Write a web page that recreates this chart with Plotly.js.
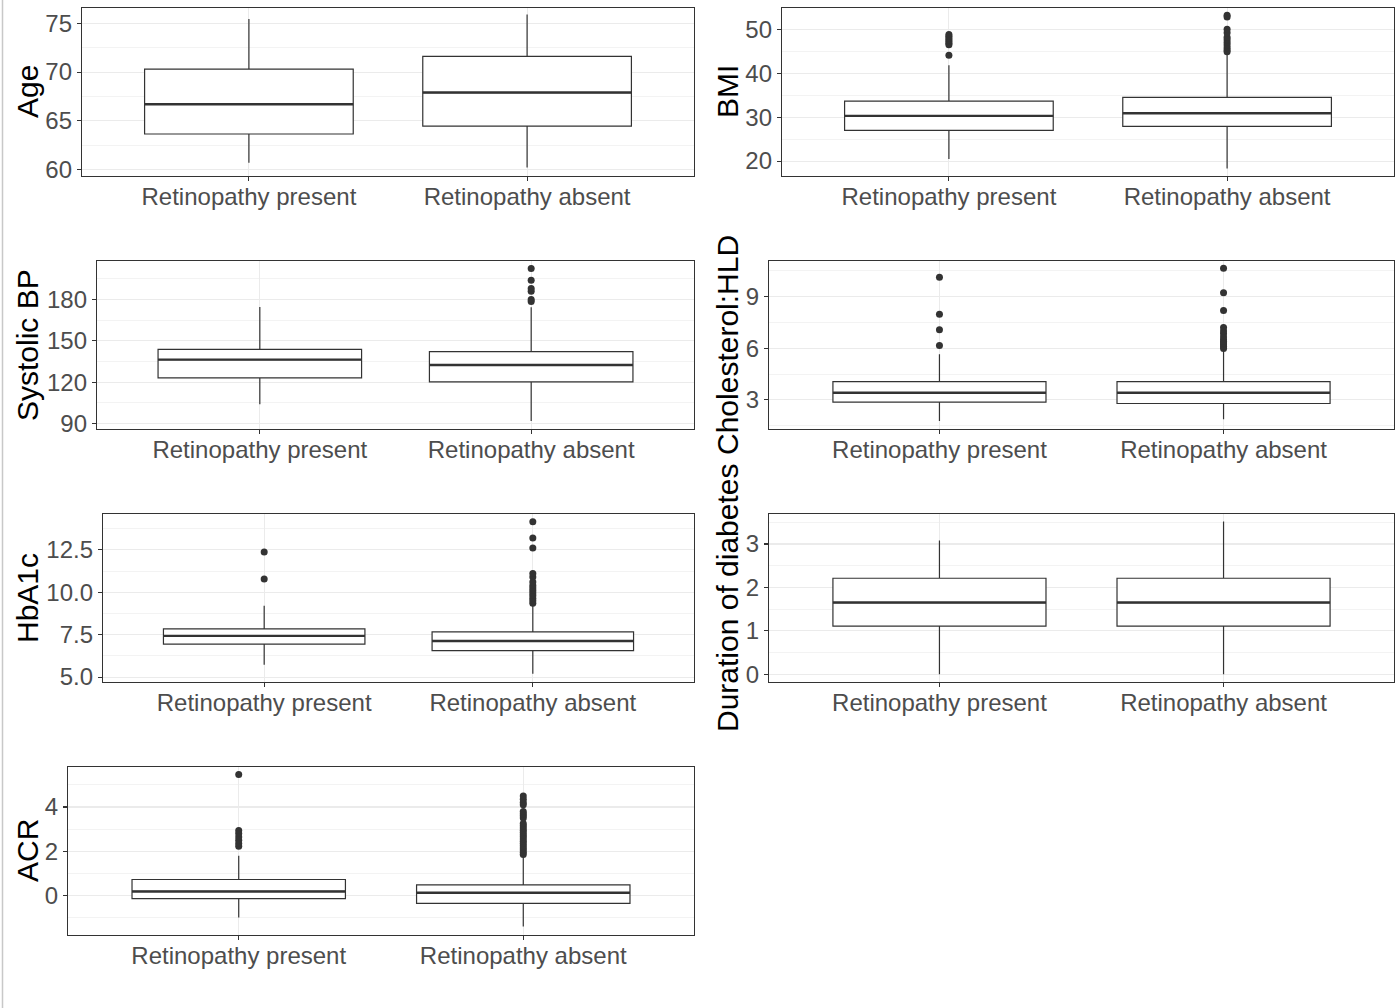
<!DOCTYPE html>
<html>
<head>
<meta charset="utf-8">
<script src="https://cdn.plot.ly/plotly-3.0.1.min.js"></script>
<style>
  html, body { margin: 0; padding: 0; background: #ffffff; }
  #chart { width: 1398px; height: 1008px; }
</style>
</head>
<body>
<div id="chart"></div>
<script>
// ---------------- DATA ----------------
const categories = ['Retinopathy present', 'Retinopathy absent'];

// Age
const ageLow = [60.7, 60.2];
const ageQ1 = [63.65, 64.45];
const ageMedian = [66.7, 67.9];
const ageQ3 = [70.3, 71.6];
const ageHigh = [75.45, 75.9];
const ageOutPresent = [];
const ageOutAbsent = [];

// BMI
const bmiLow = [20.45, 18.3];
const bmiQ1 = [27.0, 27.9];
const bmiMedian = [30.3, 30.9];
const bmiQ3 = [33.65, 34.5];
const bmiHigh = [41.8, 44.5];
const bmiOutPresent = [44.1, 46.5, 46.8, 47.2, 47.6, 48.0, 48.4, 48.8];
const bmiOutAbsent = [44.9, 45.3, 45.8, 46.4, 47.0, 47.6, 48.2, 49.2, 50.0, 52.8, 53.2];

// Systolic BP
const sbpLow = [104.0, 91.9];
const sbpQ1 = [123.1, 120.2];
const sbpMedian = [136.4, 132.5];
const sbpQ3 = [143.9, 142.2];
const sbpHigh = [174.6, 174.3];
const sbpOutPresent = [];
const sbpOutAbsent = [178.5, 180.0, 186.0, 188.0, 194.0, 202.5];

// Cholesterol:HLD
const cholLow = [1.78, 1.88];
const cholQ1 = [2.87, 2.79];
const cholMedian = [3.42, 3.42];
const cholQ3 = [4.06, 4.06];
const cholHigh = [5.65, 5.85];
const cholOutPresent = [6.16, 7.08, 7.98, 10.13];
const cholOutAbsent = [5.98, 6.1, 6.2, 6.3, 6.4, 6.5, 6.65, 6.85, 7.0, 7.2, 8.2, 9.23, 10.65];

// HbA1c
const hbaLow = [5.73, 5.2];
const hbaQ1 = [6.94, 6.56];
const hbaMedian = [7.43, 7.13];
const hbaQ3 = [7.84, 7.66];
const hbaHigh = [9.2, 9.25];
const hbaOutPresent = [10.78, 12.37];
const hbaOutAbsent = [9.35, 9.5, 9.65, 9.8, 9.95, 10.1, 10.25, 10.4, 10.6, 10.9, 11.1, 12.6, 13.2, 14.15];

// Duration of diabetes
const durLow = [0.0, 0.0];
const durQ1 = [1.105, 1.105];
const durMedian = [1.65, 1.65];
const durQ3 = [2.21, 2.21];
const durHigh = [3.08, 3.52];
const durOutPresent = [];
const durOutAbsent = [];

// ACR
const acrLow = [-1.0, -1.4];
const acrQ1 = [-0.14, -0.36];
const acrMedian = [0.18, 0.12];
const acrQ3 = [0.72, 0.48];
const acrHigh = [1.8, 1.8];
const acrOutPresent = [2.22, 2.35, 2.5, 2.64, 2.8, 2.94, 5.47];
const acrOutAbsent = [1.85, 1.95, 2.05, 2.15, 2.25, 2.35, 2.45, 2.55, 2.65, 2.75, 2.85, 2.95, 3.05, 3.15, 3.25, 3.5, 3.6, 3.7, 3.8, 4.1, 4.2, 4.35, 4.5];

// -------------- PANELS (layout only) --------------
const W = 1398, H = 1008;
const panels = [
  { title: 'Age', low: ageLow, q1: ageQ1, med: ageMedian, q3: ageQ3, high: ageHigh, outP: ageOutPresent, outA: ageOutAbsent,
    frame: [82, 694, 8, 176], range: [59.34, 76.57], dtick: 5, fmt: '', titleX: 27 },
  { title: 'BMI', low: bmiLow, q1: bmiQ1, med: bmiMedian, q3: bmiQ3, high: bmiHigh, outP: bmiOutPresent, outA: bmiOutAbsent,
    frame: [782, 1394, 8, 176], range: [16.6, 54.85], dtick: 10, fmt: '', titleX: 727 },
  { title: 'Systolic BP', low: sbpLow, q1: sbpQ1, med: sbpMedian, q3: sbpQ3, high: sbpHigh, outP: sbpOutPresent, outA: sbpOutAbsent,
    frame: [97, 694, 261, 429], range: [86.1, 207.9], dtick: 30, fmt: '', titleX: 27 },
  { title: 'Cholesterol:HLD', low: cholLow, q1: cholQ1, med: cholMedian, q3: cholQ3, high: cholHigh, outP: cholOutPresent, outA: cholOutAbsent,
    frame: [769, 1394, 261, 429], range: [1.31, 11.07], dtick: 3, fmt: '', titleX: 727 },
  { title: 'HbA1c', low: hbaLow, q1: hbaQ1, med: hbaMedian, q3: hbaQ3, high: hbaHigh, outP: hbaOutPresent, outA: hbaOutAbsent,
    frame: [103, 694, 514, 682], range: [4.71, 14.61], dtick: 2.5, fmt: '.1f', titleX: 27 },
  { title: 'Duration of diabetes', low: durLow, q1: durQ1, med: durMedian, q3: durQ3, high: durHigh, outP: durOutPresent, outA: durOutAbsent,
    frame: [769, 1394, 514, 682], range: [-0.18, 3.69], dtick: 1, fmt: '', titleX: 727 },
  { title: 'ACR', low: acrLow, q1: acrQ1, med: acrMedian, q3: acrQ3, high: acrHigh, outP: acrOutPresent, outA: acrOutAbsent,
    frame: [68, 694, 767, 935], range: [-1.79, 5.81], dtick: 2, fmt: '', titleX: 27 }
];

const FONT = 'Arial, "Liberation Sans", Helvetica, sans-serif';
const LINE = '#333333';
const catPos = categories.map((c, i) => i + 1);
const BOXW = 0.75;

const traces = [];
const layout = {
  width: W, height: H,
  margin: { l: 0, r: 0, t: 0, b: 0 },
  paper_bgcolor: '#ffffff',
  plot_bgcolor: '#ffffff',
  showlegend: false,
  font: { family: FONT },
  annotations: [],
  shapes: [{
    type: 'line', xref: 'paper', yref: 'paper',
    x0: 2.5 / W, x1: 2.5 / W, y0: 0, y1: 1,
    line: { color: '#C8C8C8', width: 1.5 }
  }]
};

panels.forEach((p, k) => {
  const n = k === 0 ? '' : String(k + 1);
  const xa = 'x' + n, ya = 'y' + n;

  traces.push({
    type: 'box', xaxis: xa, yaxis: ya,
    x: catPos,
    q1: p.q1, median: p.med, q3: p.q3,
    lowerfence: p.low, upperfence: p.high,
    width: BOXW, whiskerwidth: 0,
    boxpoints: false,
    fillcolor: '#ffffff',
    line: { color: LINE, width: 1.2 },
    hoverinfo: 'skip'
  });

  // thicker median bar (ggplot fatten)
  const mx = [], my = [];
  catPos.forEach((c, i) => {
    mx.push(c - BOXW / 2, c + BOXW / 2, null);
    my.push(p.med[i], p.med[i], null);
  });
  traces.push({
    type: 'scatter', mode: 'lines', xaxis: xa, yaxis: ya,
    x: mx, y: my, line: { color: LINE, width: 2.4 }, hoverinfo: 'skip'
  });

  // outliers
  const ox = p.outP.map(() => catPos[0]).concat(p.outA.map(() => catPos[1]));
  const oy = p.outP.concat(p.outA);
  if (oy.length) {
    traces.push({
      type: 'scatter', mode: 'markers', xaxis: xa, yaxis: ya,
      x: ox, y: oy,
      marker: { color: LINE, size: 7, line: { width: 0 } },
      hoverinfo: 'skip'
    });
  }

  const [fx0, fx1, fy0, fy1] = p.frame;
  layout['xaxis' + n] = {
    domain: [fx0 / W, fx1 / W],
    anchor: ya,
    range: [0.4, 2.6],
    tickmode: 'array', tickvals: catPos, ticktext: categories,
    showline: true, mirror: true, linecolor: LINE, linewidth: 1.2,
    ticks: 'outside', ticklen: 4, tickwidth: 1.1, tickcolor: LINE,
    ticklabelstandoff: -5,
    tickfont: { family: FONT, size: 24, color: '#4D4D4D' },
    showgrid: true, gridcolor: '#EBEBEB', gridwidth: 1,
    zeroline: false, fixedrange: true
  };
  layout['yaxis' + n] = {
    domain: [1 - fy1 / H, 1 - fy0 / H],
    anchor: xa,
    range: p.range,
    tick0: 0, dtick: p.dtick, tickformat: p.fmt,
    showline: true, mirror: true, linecolor: LINE, linewidth: 1.2,
    ticks: 'outside', ticklen: 4, tickwidth: 1.1, tickcolor: LINE,
    tickfont: { family: FONT, size: 24, color: '#4D4D4D' },
    showgrid: true, gridcolor: '#EBEBEB', gridwidth: 1.1,
    minor: { tick0: 0, dtick: p.dtick / 2, showgrid: true, gridcolor: '#F3F3F3', gridwidth: 1, ticks: '' },
    zeroline: false, fixedrange: true
  };

  layout.annotations.push({
    text: p.title, xref: 'paper', yref: 'paper',
    x: p.titleX / W, y: 1 - ((fy0 + fy1) / 2) / H,
    xanchor: 'center', yanchor: 'middle',
    textangle: -90, showarrow: false,
    font: { family: FONT, size: 30, color: '#000000' }
  });
});

Plotly.newPlot('chart', traces, layout, { displayModeBar: false, staticPlot: true });
</script>
</body>
</html>
